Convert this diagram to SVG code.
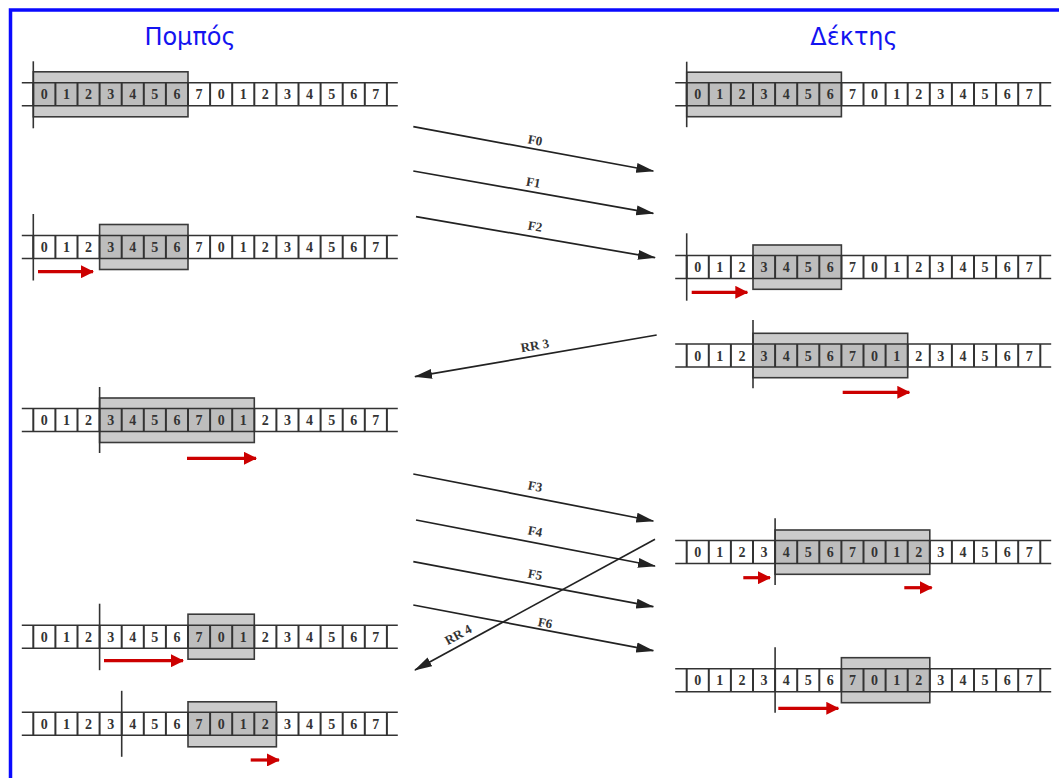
<svg xmlns="http://www.w3.org/2000/svg" xmlns:xlink="http://www.w3.org/1999/xlink" width="1059" height="778" viewBox="0 0 1059 778">
<style>
.title{font-family:"DejaVu Sans","Liberation Sans",sans-serif;font-size:24px;fill:#1414f0;text-anchor:middle}
.num{font-family:"Liberation Serif","DejaVu Serif",serif;font-weight:bold;font-size:14px;fill:#333;text-anchor:middle}
.tl{stroke:#333;stroke-width:1.6;fill:none}
.sep{stroke:#333;stroke-width:2;fill:none}
.win{fill:#cbcbcb;stroke:#3a3a3a;stroke-width:1.6}
.wcell{fill:#bdbdbd;stroke:none}
.mark{stroke:#333;stroke-width:1.6}
.red{stroke:#cc0000;stroke-width:3.2;fill:none;marker-end:url(#rh)}
.conn{stroke:#222;stroke-width:1.7;fill:none;marker-end:url(#bh)}
.lbl{font-family:"Liberation Serif","DejaVu Serif",serif;font-weight:bold;font-size:13px;fill:#333;text-anchor:middle}
</style>
<defs>
<marker id="bh" markerUnits="userSpaceOnUse" markerWidth="18" markerHeight="11" viewBox="0 0 18 11" refX="17" refY="5.5" orient="auto"><path d="M0,0.5 L18,5.5 L0,10.5 z" fill="#222"/></marker>
<marker id="rh" markerUnits="userSpaceOnUse" markerWidth="13" markerHeight="13" viewBox="0 0 13 13" refX="12" refY="6.5" orient="auto"><path d="M0,0 L13,6.5 L0,13 z" fill="#cc0000"/></marker>
<g id="tape">
<path class="tl" d="M-11.5,-11.5 H364.5 M-11.5,11.5 H364.5"/>
<path class="sep" d="M0,-11.5V11.5 M22.1,-11.5V11.5 M44.2,-11.5V11.5 M66.3,-11.5V11.5 M88.4,-11.5V11.5 M110.5,-11.5V11.5 M132.6,-11.5V11.5 M154.7,-11.5V11.5 M176.8,-11.5V11.5 M198.9,-11.5V11.5 M221,-11.5V11.5 M243.1,-11.5V11.5 M265.2,-11.5V11.5 M287.3,-11.5V11.5 M309.4,-11.5V11.5 M331.5,-11.5V11.5 M353.6,-11.5V11.5"/>
<text class="num" x="11.05" y="5">0</text><text class="num" x="33.15" y="5">1</text><text class="num" x="55.25" y="5">2</text><text class="num" x="77.35" y="5">3</text><text class="num" x="99.45" y="5">4</text><text class="num" x="121.55" y="5">5</text><text class="num" x="143.65" y="5">6</text><text class="num" x="165.75" y="5">7</text><text class="num" x="187.85" y="5">0</text><text class="num" x="209.95" y="5">1</text><text class="num" x="232.05" y="5">2</text><text class="num" x="254.15" y="5">3</text><text class="num" x="276.25" y="5">4</text><text class="num" x="298.35" y="5">5</text><text class="num" x="320.45" y="5">6</text><text class="num" x="342.55" y="5">7</text>
</g>
</defs>
<rect width="1059" height="778" fill="#fff"/>
<rect x="10.5" y="10" width="1100" height="800" fill="none" stroke="#0a0aff" stroke-width="3.5"/>
<g id="titles">
<text class="title" x="190" y="45">Πομπός</text>
<text class="title" x="854" y="45">Δέκτης</text>
</g>
<g id="sender1" transform="translate(33.3,94.3)">
<rect class="win" x="0" y="-22.5" width="154.7" height="45"/>
<rect class="wcell" x="0" y="-11.5" width="154.7" height="23"/>
<use xlink:href="#tape"/>
<line class="mark" x1="0" y1="-33" x2="0" y2="34"/>
</g>
<g id="sender2" transform="translate(33.3,247)">
<rect class="win" x="66.3" y="-22.5" width="88.4" height="45"/>
<rect class="wcell" x="66.3" y="-11.5" width="88.4" height="23"/>
<use xlink:href="#tape"/>
<line class="mark" x1="0" y1="-33" x2="0" y2="33.5"/>
<line class="red" x1="4.7" y1="24.7" x2="59.7" y2="24.7"/>
</g>
<g id="sender3" transform="translate(33.3,420)">
<rect class="win" x="66.3" y="-22" width="154.7" height="44.5"/>
<rect class="wcell" x="66.3" y="-11.5" width="154.7" height="23"/>
<use xlink:href="#tape"/>
<line class="mark" x1="66.3" y1="-33" x2="66.3" y2="33"/>
<line class="red" x1="153.7" y1="38.3" x2="222.7" y2="38.3"/>
</g>
<g id="sender4" transform="translate(33.3,636.7)">
<rect class="win" x="154.7" y="-22.5" width="66.3" height="45"/>
<rect class="wcell" x="154.7" y="-11.5" width="66.3" height="23"/>
<use xlink:href="#tape"/>
<line class="mark" x1="66.3" y1="-33" x2="66.3" y2="33.5"/>
<line class="red" x1="70.7" y1="24" x2="149.7" y2="24"/>
</g>
<g id="sender5" transform="translate(33.3,723.8)">
<rect class="win" x="154.7" y="-22" width="88.4" height="45"/>
<rect class="wcell" x="154.7" y="-11.5" width="88.4" height="23"/>
<use xlink:href="#tape"/>
<line class="mark" x1="88.4" y1="-33" x2="88.4" y2="33"/>
<line class="red" x1="217.4" y1="36.2" x2="245.7" y2="36.2"/>
</g>
<g id="receiver1" transform="translate(686.7,94.2)">
<rect class="win" x="0" y="-22" width="154.7" height="44.5"/>
<rect class="wcell" x="0" y="-11.5" width="154.7" height="23"/>
<use xlink:href="#tape"/>
<line class="mark" x1="0" y1="-32.5" x2="0" y2="33"/>
</g>
<g id="receiver2" transform="translate(686.7,267)">
<rect class="win" x="66.3" y="-22" width="88.4" height="44.3"/>
<rect class="wcell" x="66.3" y="-11.5" width="88.4" height="23"/>
<use xlink:href="#tape"/>
<line class="mark" x1="0" y1="-33.7" x2="0" y2="33.7"/>
<line class="red" x1="5" y1="25.3" x2="60.6" y2="25.3"/>
</g>
<g id="receiver3" transform="translate(686.7,355.5)">
<rect class="win" x="66.3" y="-22.2" width="154.7" height="44.4"/>
<rect class="wcell" x="66.3" y="-11.5" width="154.7" height="23"/>
<use xlink:href="#tape"/>
<line class="mark" x1="66.3" y1="-35.5" x2="66.3" y2="32.8"/>
<line class="red" x1="156" y1="36.8" x2="222.6" y2="36.8"/>
</g>
<g id="receiver4" transform="translate(686.7,552)">
<rect class="win" x="88.4" y="-22" width="154.7" height="44.3"/>
<rect class="wcell" x="88.4" y="-11.5" width="154.7" height="23"/>
<use xlink:href="#tape"/>
<line class="mark" x1="88.4" y1="-33.7" x2="88.4" y2="33"/>
<line class="red" x1="56.6" y1="25.7" x2="83.3" y2="25.7"/>
<line class="red" x1="217.6" y1="35.7" x2="245" y2="35.7"/>
</g>
<g id="receiver5" transform="translate(686.7,680.3)">
<rect class="win" x="154.7" y="-22.6" width="88.4" height="45"/>
<rect class="wcell" x="154.7" y="-11.5" width="88.4" height="23"/>
<use xlink:href="#tape"/>
<line class="mark" x1="88.4" y1="-33" x2="88.4" y2="32.4"/>
<line class="red" x1="91.6" y1="28" x2="151.6" y2="28"/>
</g>
<g id="connectors">
<line class="conn" x1="413.3" y1="126.7" x2="653.3" y2="171"/>
<line class="conn" x1="413.3" y1="171" x2="653.3" y2="213.3"/>
<line class="conn" x1="416" y1="216.7" x2="655" y2="257.7"/>
<line class="conn" x1="656.7" y1="335" x2="415" y2="376.7"/>
<line class="conn" x1="413.3" y1="474" x2="653.3" y2="521"/>
<line class="conn" x1="416" y1="520" x2="655" y2="566"/>
<line class="conn" x1="413.3" y1="561.7" x2="653.3" y2="606.7"/>
<line class="conn" x1="413.3" y1="605" x2="653.3" y2="650.7"/>
<line class="conn" x1="655" y1="539.3" x2="415" y2="670"/>
<text class="lbl" transform="translate(535,140.7) rotate(10.5)" y="4">F0</text>
<text class="lbl" transform="translate(533.3,182.7) rotate(10)" y="4">F1</text>
<text class="lbl" transform="translate(535,226.7) rotate(9.7)" y="4">F2</text>
<text class="lbl" transform="translate(535,346) rotate(-9.8)" y="4">RR 3</text>
<text class="lbl" transform="translate(535,486.7) rotate(11)" y="4">F3</text>
<text class="lbl" transform="translate(535,531.7) rotate(10.9)" y="4">F4</text>
<text class="lbl" transform="translate(535,575) rotate(10.6)" y="4">F5</text>
<text class="lbl" transform="translate(545,623.3) rotate(10.8)" y="4">F6</text>
<text class="lbl" transform="translate(458.3,635) rotate(-28.6)" y="4">RR 4</text>
</g>
</svg>
